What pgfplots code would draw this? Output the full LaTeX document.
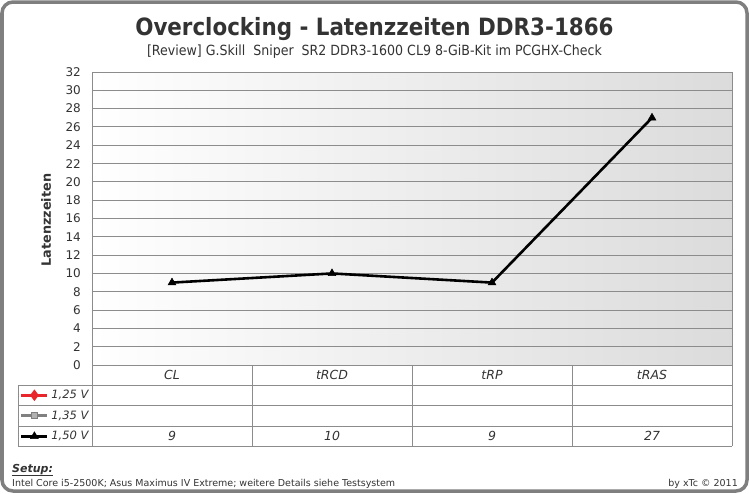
\documentclass[border=0pt]{standalone}
\usepackage{pgfplots}
\pgfplotsset{compat=1.18}
\usepackage{fontspec}
\setmainfont{DejaVu Sans}
\newfontfamily\condfont{DejaVu Sans Condensed}
\definecolor{frame}{HTML}{7F7F7F}
\definecolor{gridc}{HTML}{8C8C8C}
\definecolor{txt}{HTML}{333333}
\definecolor{rd}{HTML}{E8262C}
\definecolor{gy}{HTML}{808080}
\begin{document}
\begin{tikzpicture}
\path[use as bounding box] (0pt,0pt) rectangle (749pt,-493pt);
\draw[frame, line width=3.5pt, rounded corners=11pt, fill=white] (2pt,-2pt) rectangle (747pt,-491pt);
\node[font=\condfont\bfseries\fontsize{23.8}{26}\selectfont, text=txt, anchor=base] at (374.5pt,-35pt) {Overclocking - Latenzzeiten DDR3-1866};
\node[font=\condfont\fontsize{14}{16}\selectfont, text=txt, anchor=base] at (374.5pt,-55pt) {[Review] G.Skill\ \ Sniper\ \ SR2 DDR3-1600 CL9 8-GiB-Kit im PCGHX-Check};
\begin{axis}[
  at={(92pt,-365pt)}, anchor=south west,
  scale only axis, width=640pt, height=293pt,
  xmin=-0.5, xmax=3.5, ymin=0, ymax=32,
  ytick={0,2,...,32},
  xtick={0,1,2,3}, xticklabels={CL,tRCD,tRP,tRAS},
  major tick length=0pt,
  ymajorgrids, grid style={gridc, line width=1pt},
  axis line style={gridc, line width=1pt},
  axis background/.style={shade, shading angle=75, left color=white, right color=black!14},
  /pgf/number format/assume math mode=true,
  yticklabel style={font=\fontsize{12}{14}\selectfont, text=txt, inner sep=0pt, xshift=-11pt},
  xticklabel style={font=\itshape\fontsize{12.5}{14}\selectfont, text=txt, anchor=center, yshift=-10pt, inner sep=0pt},
  clip=false,
  legend style={at={(axis description cs:-0.1125,-0.0683)}, anchor=north west, draw=none, fill=none,
    inner sep=0pt, outer sep=0pt, row sep=0pt, column sep=2.5pt,
    nodes={inner sep=0pt, minimum height=20.5pt, font=\itshape\fontsize{11.5}{13}\selectfont, text=txt}},
  legend cell align=left,
  legend image code/.code={\draw[mark repeat=2,mark phase=2,#1] plot coordinates {(0pt,0pt) (13pt,0pt) (26pt,0pt)};},
]
\addlegendimage{rd, line width=2.8pt, mark=diamond*, mark size=3.5pt, mark options={fill=rd}}
\addlegendentry{1,25 V}
\addlegendimage{gy, line width=2.8pt, mark=square*, mark size=3.2pt, mark options={fill=gray!60, draw=gy, line width=1pt}}
\addlegendentry{1,35 V}
\addplot[black, line width=2.6pt, mark=triangle*, mark size=4.5pt, mark options={line width=0.5pt}] coordinates {(0,9) (1,10) (2,9) (3,27)};
\addlegendentry{1,50 V}
\addplot[draw=none, mark=none, forget plot, nodes near coords, point meta=explicit symbolic,
  every node near coord/.append style={anchor=center, yshift=-71pt, font=\itshape\fontsize{12.5}{14}\selectfont, text=txt, inner sep=0pt}]
  coordinates {(0,0) [9] (1,0) [10] (2,0) [9] (3,0) [27]};
\end{axis}
% table grid
\draw[gridc, line width=1pt] (92pt,-365pt) -- (92pt,-446pt);
\foreach \x in {252,412,572,732} \draw[gridc, line width=1pt] (\x pt,-365pt) -- (\x pt,-446pt);
\draw[gridc, line width=1pt] (18pt,-385pt) -- (18pt,-446pt);
\foreach \y in {385,405.5,426,446} \draw[gridc, line width=1pt] (18pt,-\y pt) -- (732pt,-\y pt);
\node[rotate=90, font=\bfseries\fontsize{12.8}{14}\selectfont, text=txt] at (46pt,-220pt) {Latenzzeiten};
\node[anchor=base west, font=\bfseries\itshape\fontsize{11}{13}\selectfont, text=txt, inner sep=0pt] at (12pt,-472pt) {\underline{Setup:}};
\node[anchor=base west, font=\fontsize{9.5}{11}\selectfont, text=txt, inner sep=0pt] at (12pt,-486pt) {Intel Core i5-2500K; Asus Maximus IV Extreme; weitere Details siehe Testsystem};
\node[anchor=base east, font=\fontsize{9.5}{11}\selectfont, text=txt, inner sep=0pt] at (738pt,-486pt) {by xTc © 2011};
\end{tikzpicture}
\end{document}
